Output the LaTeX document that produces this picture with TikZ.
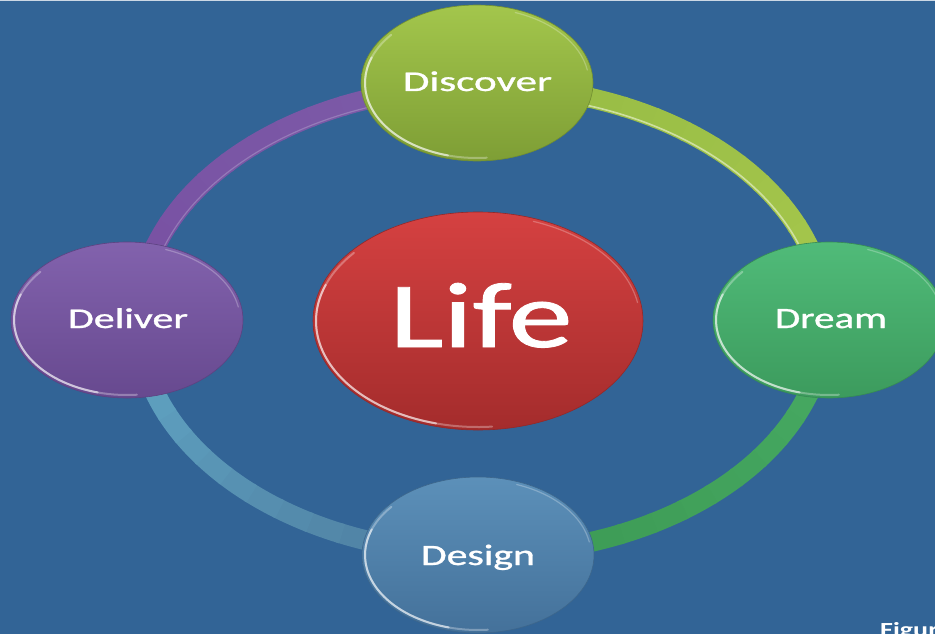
\documentclass[tikz,border=0pt]{standalone}
\usepackage{fontspec}
\usepackage{graphicx}
\setmainfont{Carlito}
\newfontfamily\thickfont[FakeBold=0.9]{Carlito}
\usetikzlibrary{shapes.geometric}

% palette
\definecolor{bg}{HTML}{326496}
\definecolor{discTop}{HTML}{A3C64C}
\definecolor{discBot}{HTML}{7E9E35}
\definecolor{dreamTop}{HTML}{50BB79}
\definecolor{dreamBot}{HTML}{3C9B5D}
\definecolor{desTop}{HTML}{5C90B9}
\definecolor{desBot}{HTML}{44719A}
\definecolor{delTop}{HTML}{8262AD}
\definecolor{delBot}{HTML}{67498F}
\definecolor{lifeTop}{HTML}{D54141}
\definecolor{lifeBot}{HTML}{A42C2C}
\definecolor{ringA}{HTML}{96BC44}
\definecolor{ringB}{HTML}{A7C74D}
\definecolor{ringC}{HTML}{47AB63}
\definecolor{ringD}{HTML}{3C9954}
\definecolor{ringE}{HTML}{4D7C9E}
\definecolor{ringF}{HTML}{62A7C6}
\definecolor{ringG}{HTML}{7850A2}
\definecolor{ringH}{HTML}{7C5BA8}

% label stretched to a given width, natural height kept
\newcommand{\widetext}[3]{\resizebox{#1pt}{\height}{\fontsize{#2}{#2}\thickfont #3}}

% one quarter of the ring (radii 344 x 234), colour blended from #2 to #3
\newcommand{\ringpart}[3]{%
  \foreach \k in {0,...,14}{%
    \pgfmathsetmacro\ang{#1+6*\k}%
    \pgfmathsetmacro\pct{100-100*\k/14}%
    \draw[band, draw=#2!\pct!#3] ([shift={(\ang:344 and 234)}]ring)
      arc[start angle=\ang, delta angle=6.6, x radius=344, y radius=234];
  }}

% glossy rim on an ellipse node
\newcommand{\bevel}[3]{%
  \draw[glint, opacity=.3] ([shift={(85:#2 and #3)}]#1.center)
    arc[start angle=85, end angle=220, x radius=#2, y radius=#3];
  \draw[glint, opacity=.55] ([shift={(105:#2 and #3)}]#1.center)
    arc[start angle=105, end angle=200, x radius=#2, y radius=#3];
  \draw[glint, line width=1.2pt, opacity=.25] ([shift={(290:#2 and #3)}]#1.center)
    arc[start angle=290, end angle=350, x radius=#2, y radius=#3];}

\begin{document}
\begin{tikzpicture}[x=1pt, y=-1pt,
  band/.style={line width=20pt, line cap=butt},
  glint/.style={draw=white, line width=2pt, line cap=round},
  bubble/.style={ellipse, inner sep=0pt, minimum width=232pt, minimum height=156pt, line width=.6pt},
  lbl/.style={text=white, inner sep=0pt, anchor=base}]

\useasboundingbox (0,0) rectangle (935,634);
\clip (0,0) rectangle (935,634);
\fill[bg] (0,0) rectangle (935,634);
\draw[line width=1.5pt, draw=white!75!bg] (0,0.75) -- (935,0.75);

% ring centre and the points where it meets each stage
\coordinate (ring) at (482,320);
\coordinate (r-top) at (482,86);
\coordinate (r-right) at (826,320);
\coordinate (r-bottom) at (482,554);
\coordinate (r-left) at (138,320);

% ring, one coloured quarter per stage
\ringpart{270}{ringA}{ringB}
\ringpart{0}{ringC}{ringD}
\ringpart{90}{ringE}{ringF}
\ringpart{180}{ringG}{ringH}
\draw[line width=1.6pt, draw=white!55!ringB, opacity=.85] ([shift={(272:336 and 226)}]ring)
  arc[start angle=272, end angle=356, x radius=336, y radius=226];
\draw[line width=1.2pt, draw=white!40!ringH, opacity=.5] ([shift={(184:336 and 226)}]ring)
  arc[start angle=184, end angle=262, x radius=336, y radius=226];

% centre
\node[bubble, minimum width=330pt, minimum height=218pt, top color=lifeTop, bottom color=lifeBot, draw=lifeBot!90!black] (life) at (478,321) {};
\bevel{life}{162}{106}

% stages
\node[bubble, top color=discTop, bottom color=discBot, draw=discBot!90!black] (disc) at (477,83) {};
\bevel{disc}{112}{75}
\node[bubble, top color=dreamTop, bottom color=dreamBot, draw=dreamBot!90!black] (dream) at (829,320) {};
\bevel{dream}{113}{75}
\node[bubble, top color=desTop, bottom color=desBot, draw=desBot!90!black] (design) at (478,555) {};
\bevel{design}{113}{75}
\node[bubble, top color=delTop, bottom color=delBot, draw=delBot!90!black] (deliver) at (127,320) {};
\bevel{deliver}{113}{75}

% labels
\node[lbl] (life-t) at (481,347) {\widetext{183}{93}{Life}};
\node[lbl] (disc-t) at (477.5,91) {\widetext{149}{28.5}{Discover}};
\node[lbl] (dream-t) at (831,328) {\widetext{112}{29.5}{Dream}};
\node[lbl] (design-t) at (478,565) {\widetext{114}{29.5}{Design}};
\node[lbl] (deliver-t) at (128,328) {\widetext{120}{28.5}{Deliver}};

\node[text=white, inner sep=0pt, anchor=base west] (fig) at (880,636)
  {\scalebox{1.4}[1]{\fontsize{20}{20}\selectfont\bfseries Figur}};
\end{tikzpicture}
\end{document}
